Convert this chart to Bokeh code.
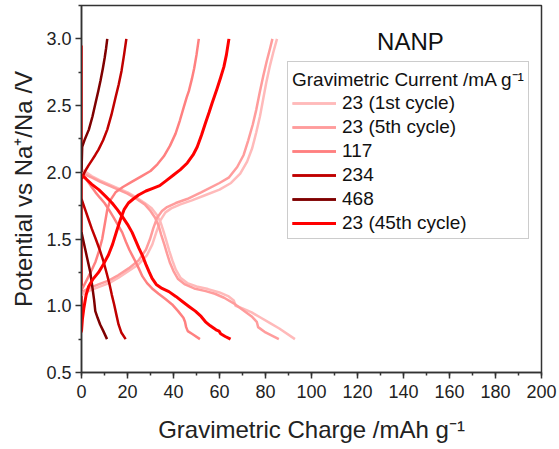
from bokeh.plotting import figure
from bokeh.models import Range1d, FixedTicker, SingleIntervalTicker, PrintfTickFormatter, Legend, LegendItem, Label
from bokeh.embed import file_html
from bokeh.resources import INLINE

# ---- data (capacity mAh/g, potential V) ----
series_names = ["23 (1st cycle)", "23 (5th cycle)", "117", "234", "468", "23 (45th cycle)"]
series_colors = ["#FFBABA", "#FF9C9C", "#FF8080", "#C00000", "#7F0000", "#FF0000"]

dis_1st_q = [0, 2, 4.6, 8, 12, 16, 20, 24, 27.5, 30.5, 32.8, 34.5, 35.8, 37, 38.2, 39.5, 41, 43, 46, 50, 55, 60, 64, 66.2, 67, 70, 74, 78, 82, 86, 92.8]
dis_1st_v = [2.02, 2.00, 1.97, 1.94, 1.91, 1.88, 1.85, 1.81, 1.77, 1.73, 1.68, 1.62, 1.55, 1.48, 1.41, 1.34, 1.27, 1.21, 1.17, 1.145, 1.125, 1.10, 1.07, 1.04, 1.00, 0.98, 0.95, 0.91, 0.87, 0.83, 0.75]
chg_1st_q = [0, 3, 7.4, 12, 16.1, 20.5, 24.8, 28.5, 30.8, 32.5, 34.3, 36.5, 39, 43, 48, 54, 60, 65, 69, 72, 74.2, 76, 77.6, 79, 80.3, 81.8, 83.4, 85]
chg_1st_v = [1.08, 1.11, 1.14, 1.17, 1.21, 1.26, 1.31, 1.38, 1.46, 1.55, 1.64, 1.70, 1.73, 1.76, 1.79, 1.83, 1.87, 1.92, 1.99, 2.08, 2.18, 2.30, 2.42, 2.55, 2.67, 2.79, 2.90, 3.0]

dis_5th_q = [0, 2, 4.6, 8, 12, 16, 20, 24, 27.5, 30, 32, 33.5, 34.7, 36, 37.2, 38.5, 40, 42, 45, 49, 54, 58, 62, 66, 70, 74, 76.2, 76.8, 80, 85.8]
dis_5th_v = [2.00, 1.98, 1.96, 1.93, 1.90, 1.87, 1.84, 1.80, 1.76, 1.71, 1.66, 1.60, 1.53, 1.46, 1.39, 1.32, 1.26, 1.20, 1.16, 1.13, 1.11, 1.09, 1.06, 1.02, 0.97, 0.92, 0.88, 0.84, 0.80, 0.75]
chg_5th_q = [0, 3, 7.4, 12, 16.1, 20.5, 24.8, 28, 29.8, 31.2, 32.9, 35, 37.2, 41, 45.9, 52, 60, 64, 67.7, 70.5, 72.5, 74.5, 76, 77.5, 79, 80.5, 82, 83]
chg_5th_v = [1.10, 1.13, 1.16, 1.19, 1.23, 1.28, 1.34, 1.42, 1.50, 1.58, 1.66, 1.71, 1.74, 1.77, 1.80, 1.85, 1.92, 1.96, 2.04, 2.13, 2.24, 2.36, 2.47, 2.60, 2.72, 2.83, 2.93, 3.0]

dis_117_q = [0, 2, 4, 6.1, 8, 10, 11.9, 14, 16, 17.7, 19.3, 20.8, 22, 23.5, 24.9, 26.5, 28.5, 30.7, 33.5, 36.5, 39.4, 42, 44.3, 45, 45.5, 46.2, 48, 51.5]
dis_117_v = [2.00, 1.95, 1.90, 1.85, 1.81, 1.77, 1.72, 1.66, 1.60, 1.55, 1.48, 1.42, 1.38, 1.33, 1.28, 1.22, 1.17, 1.13, 1.09, 1.05, 1.01, 0.96, 0.91, 0.88, 0.84, 0.81, 0.79, 0.75]
chg_117_q = [0, 1, 2.5, 4.5, 6.1, 7.6, 9, 10, 11.2, 12.5, 14.8, 18, 22, 26, 30, 33, 35.8, 38.5, 40.9, 42.8, 44.5, 45.7, 46.7, 48, 49, 50, 51]
chg_117_v = [1.12, 1.15, 1.20, 1.27, 1.33, 1.41, 1.50, 1.60, 1.72, 1.79, 1.85, 1.89, 1.93, 1.97, 2.01, 2.06, 2.12, 2.20, 2.29, 2.39, 2.49, 2.56, 2.61, 2.70, 2.78, 2.88, 3.0]

dis_234_q = [0, 1.6, 3, 4.5, 6.2, 7.9, 9.6, 11, 12.2, 13.2, 14.2, 15.2, 16.1, 17.3, 19.2]
dis_234_v = [1.80, 1.72, 1.65, 1.576, 1.50, 1.42, 1.33, 1.24, 1.16, 1.08, 1.01, 0.93, 0.86, 0.80, 0.75]
chg_234_q = [0, 1.6, 3, 4.5, 6, 7.4, 9.4, 11.2, 13, 14.8, 16.2, 17.4, 18.5, 19.5]
chg_234_v = [1.95, 2.01, 2.05, 2.09, 2.13, 2.17, 2.24, 2.32, 2.43, 2.56, 2.66, 2.76, 2.88, 3.0]

dis_468_q = [0, 0.9, 2.3, 3.8, 4.8, 5.5, 6.0, 7, 8.1, 9.5, 11.1]
dis_468_v = [1.55, 1.48, 1.37, 1.254, 1.13, 1.04, 0.96, 0.91, 0.86, 0.81, 0.75]
chg_468_q = [0, 0.3, 1.5, 3.2, 4.8, 6.1, 7.3, 8.3, 9.3, 10.1, 10.7, 11.2]
chg_468_v = [2.0, 2.19, 2.25, 2.32, 2.42, 2.52, 2.61, 2.69, 2.78, 2.86, 2.93, 3.0]

dis_45th_q = [0, 2, 4.5, 7.5, 10.5, 13.3, 15.6, 17.7, 20, 22, 23.5, 25, 26.4, 28, 29.5, 30.7, 32.5, 35, 38, 41, 44, 46.7, 49.5, 52, 53.9, 56, 58.5, 59.8, 60.5, 62.5, 64.8]
dis_45th_v = [1.98, 1.95, 1.91, 1.87, 1.82, 1.77, 1.72, 1.67, 1.61, 1.55, 1.49, 1.43, 1.38, 1.31, 1.25, 1.205, 1.16, 1.13, 1.106, 1.07, 1.03, 0.995, 0.96, 0.92, 0.88, 0.85, 0.82, 0.81, 0.79, 0.77, 0.75]
chg_45th_q = [0, 0.4, 1, 2, 3, 5, 7.4, 9.5, 11.7, 13.5, 15.3, 17, 18.5, 20.4, 22.5, 24.8, 28, 31, 34, 37, 40, 43, 46, 48.5, 50.3, 52.2, 53.9, 55.5, 56.8, 58, 59, 60.5, 61.9, 63, 64.1]
chg_45th_v = [0.81, 0.90, 0.98, 1.08, 1.14, 1.20, 1.25, 1.31, 1.38, 1.46, 1.56, 1.65, 1.72, 1.77, 1.80, 1.83, 1.86, 1.88, 1.90, 1.94, 1.98, 2.02, 2.07, 2.13, 2.19, 2.28, 2.37, 2.45, 2.52, 2.58, 2.63, 2.71, 2.79, 2.88, 3.0]
vert_45th_q = [0, 0]
vert_45th_v = [2.95, 0.80]

x_major = [0, 20, 40, 60, 80, 100, 120, 140, 160, 180, 200]
y_major = [0.5, 1.0, 1.5, 2.0, 2.5, 3.0]
y_minor = [0.75, 1.25, 1.75, 2.25, 2.75, 3.25]

curves = [
    (dis_1st_q, dis_1st_v, chg_1st_q, chg_1st_v, 2.5),
    (dis_5th_q, dis_5th_v, chg_5th_q, chg_5th_v, 2.5),
    (dis_117_q, dis_117_v, chg_117_q, chg_117_v, 2.5),
    (dis_234_q, dis_234_v, chg_234_q, chg_234_v, 2.5),
    (dis_468_q, dis_468_v, chg_468_q, chg_468_v, 2.5),
    (dis_45th_q, dis_45th_v, chg_45th_q, chg_45th_v, 3.0),
]

p = figure(width=559, height=445, output_backend="svg", toolbar_location=None,
           x_range=Range1d(0, 200), y_range=Range1d(0.5, 3.25),
           min_border_left=81, min_border_right=18, min_border_top=5, min_border_bottom=70)
p.background_fill_color = "white"
p.border_fill_color = "white"
p.xgrid.visible = False
p.ygrid.visible = False
p.outline_line_color = "#333333"
p.outline_line_width = 1.5

p.line(vert_45th_q, vert_45th_v, color="#FF0000", line_width=2.5)

items = []
for (dq, dv, cq, cv, lw), name, col in zip(curves, series_names, series_colors):
    r1 = p.line(dq, dv, color=col, line_width=lw, line_join="round")
    r2 = p.line(cq, cv, color=col, line_width=lw, line_join="round")
    items.append(LegendItem(label=name, renderers=[r1, r2]))

legend = Legend(items=items, location=(206, 133), title="Gravimetric Current /mA g\u207b\u00b9",
                title_text_font="Liberation Sans", title_text_font_size="19px", title_text_font_style="normal",
                title_text_color="#111111", title_standoff=0,
                label_text_font="Liberation Sans", label_text_font_size="19px", label_text_color="#111111",
                glyph_width=44, glyph_height=22, label_height=22, label_standoff=6, spacing=2,
                padding=4, margin=0, border_line_color="#999999", border_line_width=1.2,
                background_fill_alpha=1.0)
p.add_layout(legend)

for ax in (p.xaxis[0], p.yaxis[0]):
    ax.axis_line_color = "#333333"
    ax.axis_line_width = 1.5
    ax.major_tick_line_color = "#333333"
    ax.minor_tick_line_color = "#333333"
    ax.major_tick_line_width = 1.5
    ax.minor_tick_line_width = 1.5
    ax.major_tick_out = 6
    ax.major_tick_in = 0
    ax.minor_tick_out = 3
    ax.minor_tick_in = 0
    ax.major_label_text_font = "Liberation Sans"
    ax.major_label_text_font_size = "18px"
    ax.major_label_text_color = "#222222"
    ax.axis_label_text_font = "Liberation Sans"
    ax.axis_label_text_font_size = "24px"
    ax.axis_label_text_font_style = "normal"
    ax.axis_label_text_color = "#222222"

p.xaxis.ticker = SingleIntervalTicker(interval=20, num_minor_ticks=2)
p.xaxis.major_label_overrides = {v: str(v) for v in x_major}
p.yaxis.ticker = FixedTicker(ticks=y_major, minor_ticks=y_minor)
p.yaxis.formatter = PrintfTickFormatter(format="%.1f")
p.xaxis.axis_label = "Gravimetric Charge /mAh g\u207b\u00b9"
p.yaxis.axis_label = "Potential vs Na\u207a/Na /V"
p.xaxis.major_label_standoff = 6
p.xaxis.axis_label_standoff = 15
p.yaxis.major_label_standoff = 4
p.yaxis.axis_label_standoff = 6

p.add_layout(Label(x=128.5, y=2.98, text="NANP", text_font="Liberation Sans", text_font_size="24px",
                   text_baseline="middle", text_color="#111111"))

open("out.html", "w").write(file_html(p, INLINE))
